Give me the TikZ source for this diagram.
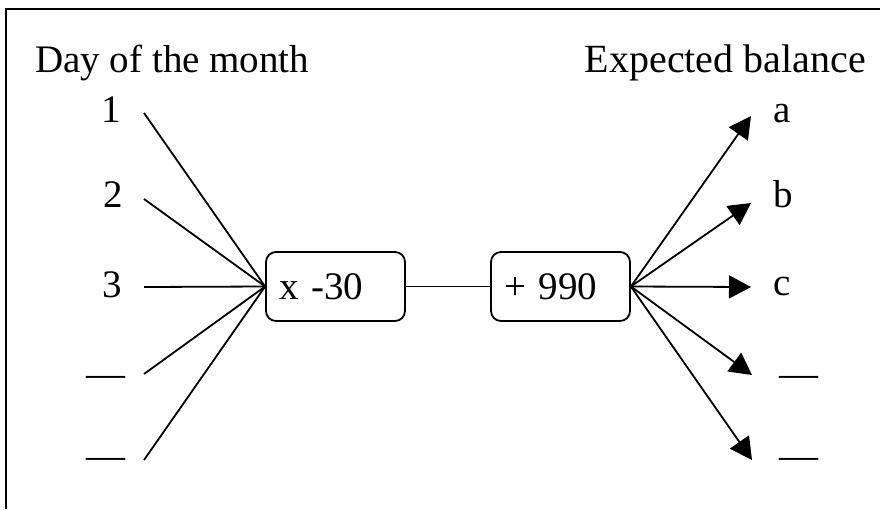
\documentclass[tikz,border=0pt]{standalone}
\usepackage{fontspec}
\setmainfont{Liberation Serif}
\usetikzlibrary{arrows.meta}
\tikzset{
    link/.style={line width=1.8pt},
    arrow/.style={line width=1.8pt,-{Triangle[length=22pt,width=23pt]}},
    op/.style={draw,line width=1.8pt,rounded corners=10pt,minimum width=139pt,minimum height=69pt,text width=113pt,align=left,inner xsep=13pt,inner ysep=0pt},
    lbl/.style={inner sep=0pt}
}
\begin{document}
\begin{tikzpicture}[x=1pt,y=-1pt,font=\fontsize{39}{44}\selectfont]
    \useasboundingbox (0,0) rectangle (880,509);
    % frame
    \draw[line width=2.4pt] (6,509) -- (6,9) -- (880,9);
    % headings
    \node[lbl,anchor=base west] (day) at (35,72) {Day of the month};
    \node[lbl,anchor=base east,font=\fontsize{40}{44}\selectfont] (bal) at (866,72) {Expected balance};
    % days
    \node[lbl,anchor=base east] (d1) at (121,122) {1};
    \node[lbl,anchor=base east] (d2) at (123,207) {2};
    \node[lbl,anchor=base east] (d3) at (122,297) {3};
    \node[lbl,anchor=base] (d4) at (105.5,386) {---};
    \node[lbl,anchor=base] (d5) at (105.5,468) {---};
    \coordinate (s1) at (144,113);
    \coordinate (s2) at (144,199);
    \coordinate (s3) at (144,287);
    \coordinate (s4) at (144,374);
    \coordinate (s5) at (144,460);
    % operations
    \node[op] (mul) at (335.5,286.5) {x -30};
    \node[op] (add) at (560.5,286.5) {+ 990};
    % balances
    \node[lbl,anchor=base west] (b1) at (773,122) {a};
    \node[lbl,anchor=base west] (b2) at (773,207) {b};
    \node[lbl,anchor=base west] (b3) at (773,295) {c};
    \node[lbl,anchor=base] (b4) at (798.5,386) {---};
    \node[lbl,anchor=base] (b5) at (798.5,468) {---};
    \coordinate (e1) at (751,116);
    \coordinate (e2) at (751,203);
    \coordinate (e3) at (751,287);
    \coordinate (e4) at (752,375);
    \coordinate (e5) at (752,460);
    % connectors
    \foreach \i in {1,...,5} {
        \draw[link] (s\i) -- (mul.west);
        \draw[arrow] (add.east) -- (e\i);
    }
    \draw[link] (mul.east) -- (add.west);
\end{tikzpicture}
\end{document}
